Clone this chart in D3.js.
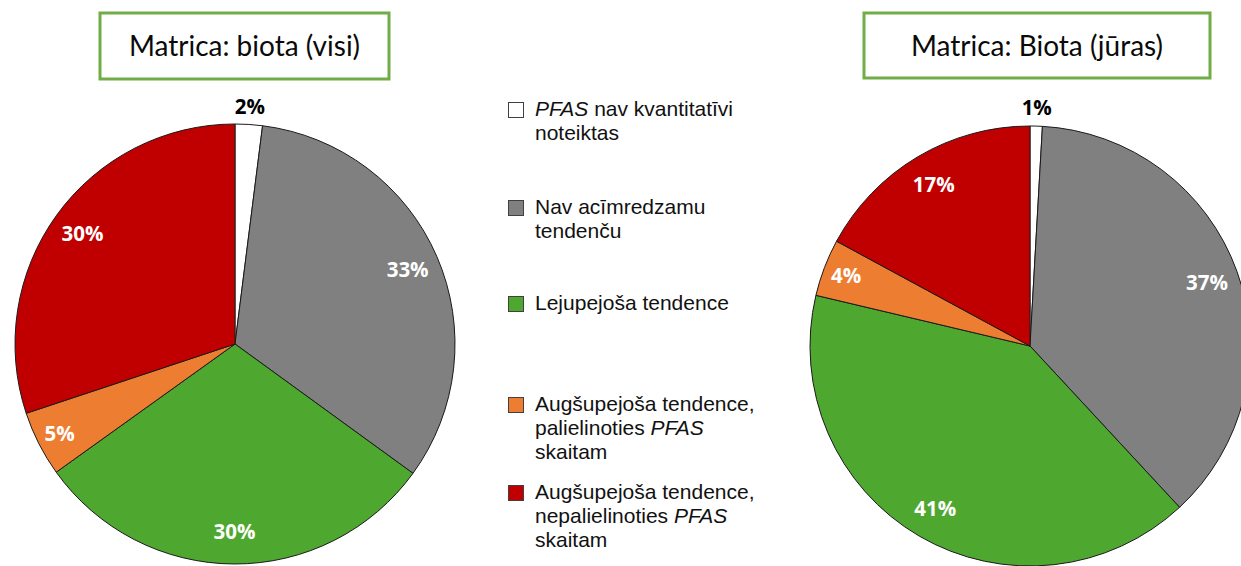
<!DOCTYPE html>
<html>
<head>
<meta charset="utf-8">
<script src="https://cdn.jsdelivr.net/npm/d3@7/dist/d3.min.js"></script>
<style>
  html, body { margin: 0; padding: 0; background: #ffffff; }
  svg { display: block; }
</style>
</head>
<body>
<svg id="chart" width="1241" height="566"></svg>
<script>
// ---- data ----
const categories = [
  "PFAS nav kvantitatīvi noteiktas",
  "Nav acīmredzamu tendenču",
  "Lejupejoša tendence",
  "Augšupejoša tendence, palielinoties PFAS skaitam",
  "Augšupejoša tendence, nepalielinoties PFAS skaitam"
];
// legend text lines (*...* = italic)
const legendLines = [
  ["*PFAS* nav kvantitatīvi", "noteiktas"],
  ["Nav acīmredzamu", "tendenču"],
  ["Lejupejoša tendence"],
  ["Augšupejoša tendence,", "palielinoties *PFAS*", "skaitam"],
  ["Augšupejoša tendence,", "nepalielinoties *PFAS*", "skaitam"]
];
const colors = ["#FFFFFF", "#808080", "#4EA72E", "#ED7D31", "#C00000"];
const titles = ["Matrica: biota (visi)", "Matrica: Biota (jūras)"];
// shares in % (labels show rounded values)
const valuesVisi = [2.0, 33.0, 30.1, 4.8, 30.1];
const valuesJuras = [0.9, 37.2, 40.6, 4.2, 17.1];

// ---- layout ----
const svg = d3.select("#chart");
const color = d3.scaleOrdinal().domain(categories).range(colors);

const pies = [
  { title: titles[0], values: valuesVisi, cx: 235, cy: 344, r: 220,
    box: { x: 100, y: 13, w: 289, h: 66 } },
  { title: titles[1], values: valuesJuras, cx: 1030, cy: 346, r: 220,
    box: { x: 864, y: 13, w: 346, h: 65 } }
];

const pieGen = d3.pie().sort(null).value(d => d.v);

pies.forEach(p => {
  // title box
  svg.append("rect")
    .attr("x", p.box.x).attr("y", p.box.y)
    .attr("width", p.box.w).attr("height", p.box.h)
    .attr("fill", "#ffffff")
    .attr("stroke", "#70AD47")
    .attr("stroke-width", 3);
  svg.append("text")
    .attr("x", p.box.x + p.box.w / 2)
    .attr("y", p.box.y + 43)
    .attr("text-anchor", "middle")
    .attr("font-family", "Lato, 'Open Sans', sans-serif")
    .attr("font-size", 28)
    .attr("fill", "#0a0a0a")
    .text(p.title);

  const data = p.values.map((v, i) => ({ v, cat: categories[i] }));
  const arcs = pieGen(data);
  const g = svg.append("g").attr("transform", `translate(${p.cx},${p.cy})`);
  const arc = d3.arc().innerRadius(0).outerRadius(p.r);

  g.selectAll("path.slice")
    .data(arcs)
    .join("path")
    .attr("class", "slice")
    .attr("d", arc)
    .attr("fill", d => color(d.data.cat))
    .attr("stroke", "#1a1a1a")
    .attr("stroke-width", 1);

  g.selectAll("text.lbl")
    .data(arcs)
    .join("text")
    .attr("class", "lbl")
    .attr("transform", (d, i) => {
      let rr;
      if (i === 0) rr = p.r + 18;
      else if (d.data.v < 6) rr = p.r * 0.895;
      else rr = p.r * 0.855;
      const a = (d.startAngle + d.endAngle) / 2;
      return `translate(${rr * Math.sin(a)},${-rr * Math.cos(a)})`;
    })
    .attr("dy", "0.36em")
    .attr("text-anchor", "middle")
    .attr("font-family", "'Open Sans', Lato, sans-serif")
    .attr("font-weight", "bold")
    .attr("font-size", 20.5)
    .attr("fill", (d, i) => i === 0 ? "#000" : "#fff")
    .text(d => Math.round(d.data.v) + "%");
});

// ---- legend ----
const legendX = 508;
const legendBaselines = [116, 214, 310, 411, 499];
const lineH = 24;
const lg = svg.append("g");
legendLines.forEach((lines, i) => {
  const by = legendBaselines[i];
  lg.append("rect")
    .attr("x", legendX + 0.5).attr("y", by - 13.5)
    .attr("width", 15).attr("height", 15)
    .attr("fill", color(categories[i]))
    .attr("stroke", "#404040")
    .attr("stroke-width", 1);
  lines.forEach((ln, j) => {
    const t = lg.append("text")
      .attr("x", legendX + 27)
      .attr("y", by + j * lineH)
      .attr("font-family", "'Liberation Sans', Arial, sans-serif")
      .attr("font-size", 21)
      .attr("fill", "#111");
    ln.split(/(\*[^*]+\*)/).filter(s => s.length).forEach(seg => {
      const it = seg.startsWith("*");
      t.append("tspan")
        .attr("font-style", it ? "italic" : "normal")
        .text(it ? seg.slice(1, -1) : seg);
    });
  });
});
</script>
</body>
</html>
